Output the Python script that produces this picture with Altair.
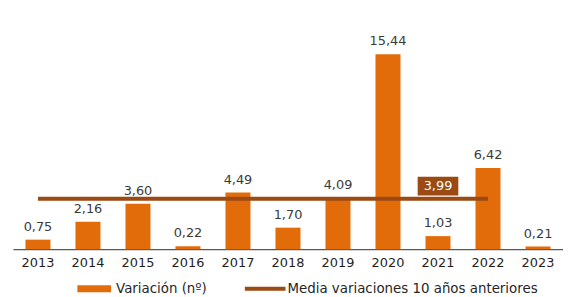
import altair as alt
import pandas as pd

years = ["2013", "2014", "2015", "2016", "2017", "2018", "2019", "2020", "2021", "2022", "2023"]
values = [0.75, 2.16, 3.60, 0.22, 4.49, 1.70, 4.09, 15.44, 1.03, 6.42, 0.21]
mean_value = 3.99
mean_start = "2013"
mean_end = "2022"
mean_label_year = "2021"
legend_labels = ["Variación (nº)", "Media variaciones 10 años anteriores"]

ORANGE = "#E36C0A"
BROWN = "#9A4A12"
FONT = "DejaVu Sans"

df = pd.DataFrame({"year": years, "v": values})
mean_df = pd.DataFrame({"start": [mean_start], "end": [mean_end], "v": [mean_value], "lab_year": [mean_label_year]})
one = pd.DataFrame({"k": [0]})

x = alt.X(
    "year:N",
    scale=alt.Scale(domain=years, paddingInner=0.5, paddingOuter=0.25),
    axis=alt.Axis(title=None, labelAngle=0, ticks=False, grid=False, domainColor="#595959",
                  domainWidth=1.5, labelFont=FONT, labelFontSize=13, labelColor="#1f1f1f",
                  labelPadding=8),
)
y = alt.Y("v:Q", scale=alt.Scale(domain=[0, 19], nice=False, zero=True), axis=None)

base = alt.Chart(df).encode(x=x, y=y)
bars = base.mark_bar(color=ORANGE)
labels = base.transform_calculate(
    lab="replace(format(datum.v, '.2f'), '.', ',')"
).mark_text(dy=-9, baseline="alphabetic", fontSize=13, font=FONT, color="#3a3a3a").encode(text="lab:N")

mean_base = alt.Chart(mean_df)
rule = mean_base.mark_rule(color=BROWN, strokeWidth=4).encode(
    x=alt.X("start:N"), x2="end:N", y=alt.Y("v:Q")
)
box_path = "M-1,-0.463L1,-0.463L1,0.463L-1,0.463Z"
box = mean_base.mark_point(shape=box_path, size=41 * 41, filled=True, color=BROWN, opacity=1,
                           strokeWidth=0, yOffset=-12.7).encode(x=alt.X("lab_year:N"), y=alt.Y("v:Q"))
box_text = mean_base.transform_calculate(
    lab="replace(format(datum.v, '.2f'), '.', ',')"
).mark_text(color="white", fontSize=13, font=FONT, baseline="middle", dy=-12.5).encode(
    x=alt.X("lab_year:N"), y=alt.Y("v:Q"), text="lab:N"
)

leg = alt.Chart(one)
leg_bar = leg.mark_rule(color=ORANGE, strokeWidth=7).encode(x=alt.value(65), x2=alt.value(99), y=alt.value(282))
leg_t1 = leg.mark_text(align="left", baseline="middle", fontSize=13.5, font=FONT, color="#262626").encode(
    x=alt.value(104), y=alt.value(282), text=alt.value(legend_labels[0]))
leg_line = leg.mark_rule(color=BROWN, strokeWidth=4).encode(x=alt.value(234), x2=alt.value(275), y=alt.value(282))
leg_t2 = leg.mark_text(align="left", baseline="middle", fontSize=13.5, font=FONT, color="#262626").encode(
    x=alt.value(277), y=alt.value(282), text=alt.value(legend_labels[1]))

chart = alt.layer(bars, labels, rule, box, box_text, leg_bar, leg_t1, leg_line, leg_t2).properties(
    width=555, height=242,
    autosize=alt.AutoSizeParams(type="none"),
    padding={"left": 5, "top": 0, "right": 0, "bottom": 47},
).configure_view(stroke=None)

chart.save("out.html", embed_options={"renderer": "svg", "actions": False})
